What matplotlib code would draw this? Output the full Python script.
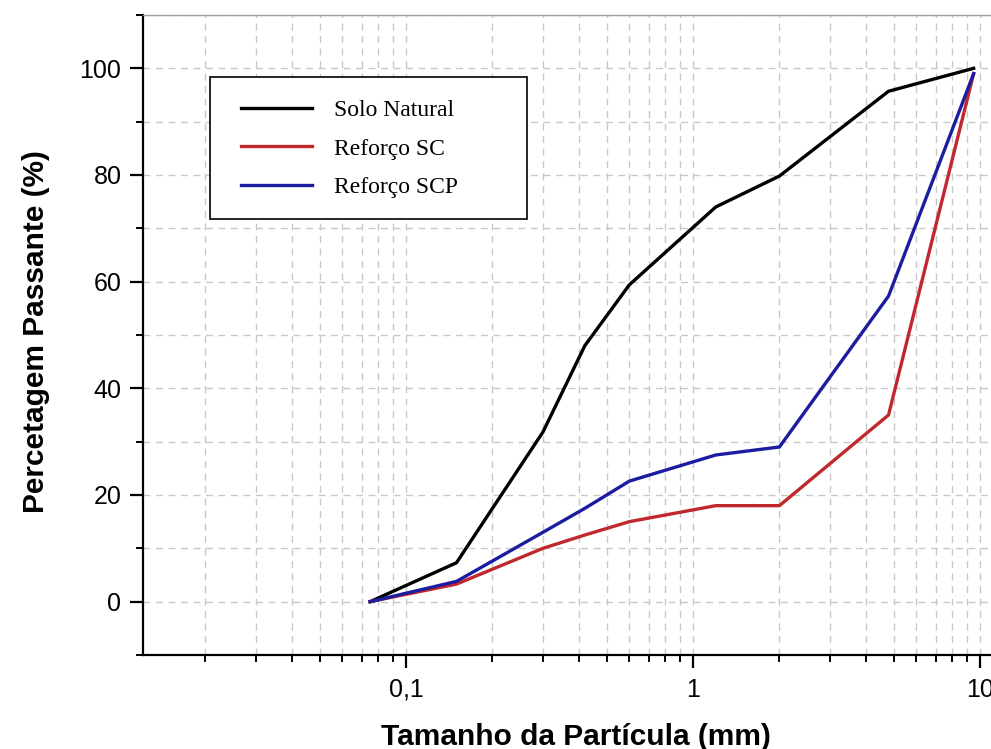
import matplotlib.pyplot as plt
import numpy as np
from matplotlib.patches import Rectangle
from matplotlib.ticker import FuncFormatter, LogLocator, MultipleLocator

# sieve sizes (mm) and percent passing
sizes = [0.075, 0.15, 0.3, 0.42, 0.6, 1.2, 2.0, 4.8, 9.5]
solo_natural = [0, 7.3, 31.8, 48, 59.4, 74, 79.8, 95.7, 100]
reforco_sc = [0, 3.3, 10, 12.5, 15, 18, 18, 35, 99]
reforco_scp = [0, 3.8, 13, 17.5, 22.6, 27.5, 29, 57.3, 99]

labels = ["Solo Natural", "Reforço SC", "Reforço SCP"]
colors = ["#000000", "#c0282d", "#1c1ca0"]

fig = plt.figure(figsize=(9.91, 7.49), dpi=100)
ax = fig.add_axes([0.1443, 0.1255, 0.8557, 0.8545])

for ys, lab, c in zip([solo_natural, reforco_sc, reforco_scp], labels, colors):
    ax.plot(sizes, ys, color=c, lw=2.4, label=lab)

ax.set_xscale("log")
ax.set_xlim(0.01213, 10.92)
ax.set_ylim(-10, 110)

ax.xaxis.set_major_locator(LogLocator(base=10, numticks=10))
ax.xaxis.set_minor_locator(LogLocator(base=10, subs=np.arange(2, 10), numticks=20))
ax.xaxis.set_major_formatter(FuncFormatter(lambda v, p: ("%g" % v).replace(".", ",")))
ax.yaxis.set_major_locator(MultipleLocator(20))
ax.yaxis.set_minor_locator(MultipleLocator(10))

ax.grid(True, which="both", ls=(0, (5, 4)), color="#c8c8c8", lw=1)
ax.set_axisbelow(True)

ax.spines["right"].set_visible(False)
ax.spines["top"].set_color("#a0a0a0")
ax.spines["top"].set_linewidth(1)
ax.spines["left"].set_linewidth(1.6)
ax.spines["bottom"].set_linewidth(1.6)

ax.tick_params(which="major", direction="out", length=9.5, width=1.6, labelsize=18,
               top=False, right=False)
ax.tick_params(which="minor", direction="out", length=5, width=1.4, top=False, right=False)
for t in ax.get_xticklabels() + ax.get_yticklabels():
    t.set_fontfamily("Liberation Sans")
ax.tick_params(axis="x", pad=7)
ax.tick_params(axis="y", pad=6)

ax.set_xlabel("Tamanho da Partícula (mm)", fontsize=21.5, fontweight="bold",
              family="Liberation Sans")
ax.xaxis.set_label_coords(0.511, -0.106)
ax.set_ylabel("Percetagem Passante (%)", fontsize=21.5, fontweight="bold",
              family="Liberation Sans")
ax.yaxis.set_label_coords(-0.11, 0.505)

# legend box drawn by hand, wider than the entries
ax.add_patch(Rectangle((0.079, 0.681), 0.374, 0.222, transform=ax.transAxes,
                       facecolor="white", edgecolor="black", lw=1.2, zorder=4))
leg = ax.legend(loc="upper left", bbox_to_anchor=(0.089, 0.903), frameon=False,
                handlelength=3.0, handletextpad=0.95, borderpad=0.95,
                labelspacing=0.72, borderaxespad=0,
                prop={"family": "Liberation Serif", "size": 17})
leg.set_zorder(5)
for line in leg.get_lines():
    line.set_linewidth(2.4)

fig.savefig("out.png", dpi=100)
